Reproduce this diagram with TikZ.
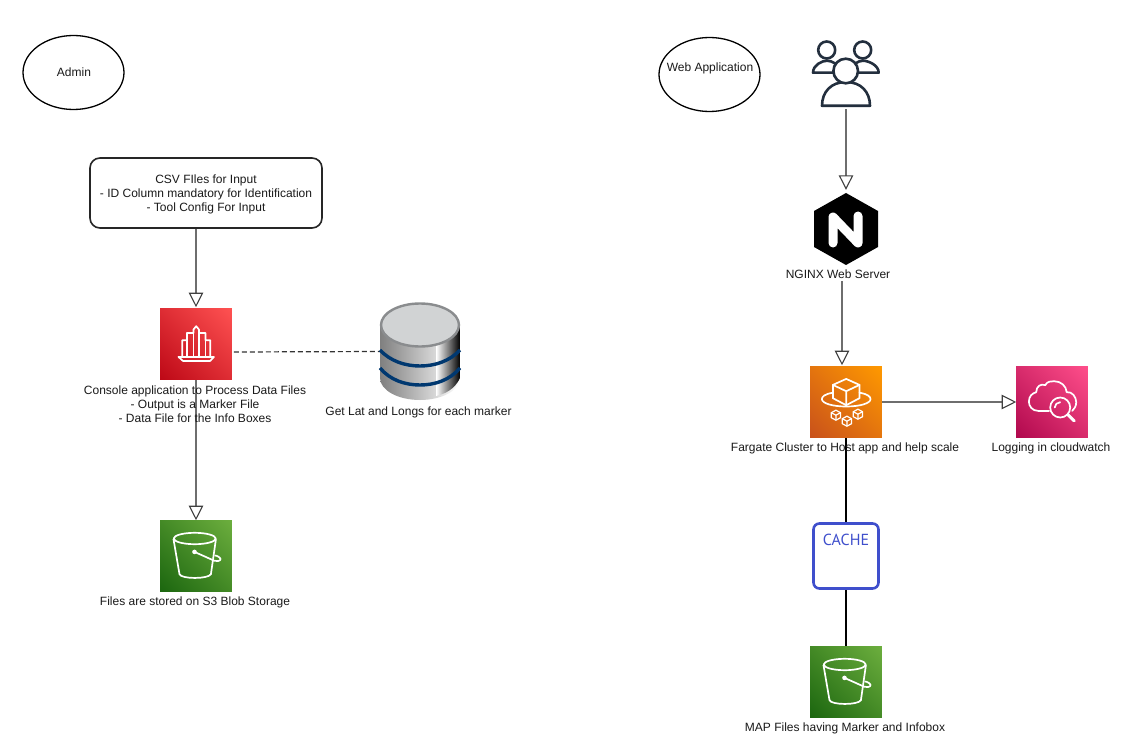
\documentclass[tikz,border=0pt]{standalone}
\usepackage{fontspec}
\setmainfont{Liberation Sans}
\newfontfamily\cachefont{PT Sans}
\usetikzlibrary{arrows.meta,calc,shadings,backgrounds,shapes.geometric}
\definecolor{inkdark}{HTML}{232F3E}
\definecolor{txt}{HTML}{1A1A1A}
\definecolor{edgegray}{HTML}{6E6E6E}
\definecolor{cacheblue}{HTML}{3F4FCC}
\tikzset{
  x=1pt,y=-1pt,
  lbl/.style={font=\fontsize{12}{14}\selectfont,text=txt,inner sep=0pt,align=center},
  oval/.style={draw=black,line width=1.3pt,ellipse,minimum width=101,minimum height=74,inner sep=0pt},
  awssq/.style={minimum size=71.6,inner sep=0pt,outer sep=0pt,shading=bilinear interpolation},
  sqred/.style={awssq,lower left={rgb,255:red,189;green,8;blue,22},upper right={rgb,255:red,255;green,82;blue,82},upper left={rgb,255:red,222;green,45;blue,52},lower right={rgb,255:red,222;green,45;blue,52}},
  sqorange/.style={awssq,lower left={rgb,255:red,200;green,81;blue,27},upper right={rgb,255:red,255;green,153;blue,0},upper left={rgb,255:red,228;green,117;blue,14},lower right={rgb,255:red,228;green,117;blue,14}},
  sqpink/.style={awssq,lower left={rgb,255:red,176;green,8;blue,77},upper right={rgb,255:red,255;green,79;blue,139},upper left={rgb,255:red,216;green,44;blue,108},lower right={rgb,255:red,216;green,44;blue,108}},
  sqgreen/.style={awssq,lower left={rgb,255:red,27;green,102;blue,15},upper right={rgb,255:red,108;green,174;blue,62},upper left={rgb,255:red,68;green,138;blue,38},lower right={rgb,255:red,68;green,138;blue,38}},
  icon/.style={draw=white,line width=1.7pt,line join=round,line cap=round},
  flow/.style={draw=edgegray,line width=1.6pt,-{Triangle[open,length=14.5pt,width=14.5pt,line width=1.1pt,color=black!75]}},
  solidlink/.style={draw=black,line width=2pt},
  dashlink/.style={draw=black!80,line width=1.2pt,dash pattern=on 5pt off 3pt},
  person/.style={draw=inkdark,line width=2.6pt,line join=round,fill=white},
}
\newcommand{\bucketicon}[1]{%
  \begin{scope}[shift={(#1)}]
    \draw[icon] (13.3,19) -- (19.3,54) .. controls (21,59) and (48,59) .. (50.7,54) -- (55.7,19);
    \draw[icon] (34.5,18.3) ellipse [x radius=21,y radius=5.7];
    \fill[white] (34.3,31.7) circle (2.3);
    \draw[icon] (34.3,31.7) -- (54,40.5) .. controls (60,42) and (62,39) .. (59,37) .. controls (58,36) and (56,35.5) .. (55,35.3);
  \end{scope}}
\newcommand{\cubeicon}[2]{%
  \begin{scope}[shift={(#1)},scale=#2]
    \draw[icon,line width=1.2pt] (0,-5) -- (4.6,-2.5) -- (4.6,2.5) -- (0,5) -- (-4.6,2.5) -- (-4.6,-2.5) -- cycle;
    \draw[icon,line width=1.2pt] (-4.6,-2.5) -- (0,0) -- (4.6,-2.5) (0,0) -- (0,5);
  \end{scope}}
\begin{document}
\begin{tikzpicture}
\useasboundingbox (0,0) rectangle (1132,754);

% ---- nodes
\node[oval] (admin) at (73.5,72.5) {};
\node[lbl] (admintext) at (74,72.5) {Admin};
\node[oval] (webapp) at (709.5,74.5) {};
\node[lbl] (webapptext) at (710,68.5) {Web Application};

\node[draw=black!85,line width=1.6pt,rounded corners=10pt,fill=white,minimum width=232,minimum height=70,inner sep=0pt] (csv) at (206,193) {};
\node[lbl] (csvtext) at (206,194.2) {CSV FIles for Input\\- ID Column mandatory for Identification\\- Tool Config For Input};

\node[sqred] (app) at (196,344) {};
\node[sqgreen] (s3a) at (196,556) {};
\node[inner sep=0pt,minimum width=80,minimum height=97] (db) at (420,351.5) {};
\node (users) at (846,72) [inner sep=0pt,minimum width=68,minimum height=74] {};
\node (nginx) at (846,229) [inner sep=0pt,minimum width=64,minimum height=72] {};
\node[sqorange] (fargate) at (846,402) {};
\node[sqpink] (cw) at (1052,402) {};
\node[draw=cacheblue,line width=2.6pt,rounded corners=6pt,minimum size=65,inner sep=0pt,fill=white] (cache) at (846,556) {};
\node[sqgreen] (s3b) at (846,682) {};

% ---- connectors (behind everything else)
\begin{scope}[on background layer]
  \fill[white] (0,0) rectangle (1132,754);
  \draw[flow] (csv.south -| app.north) -- ([yshift=1pt]app.north);
  \draw[flow] (app.south) -- (s3a.north);
  \draw[dashlink] ($(app.east)+(2,8)$) -- (db.west);
  \draw[flow] (users.south) -- ($(nginx.north)+(0,-3)$);
  \draw[flow] ($(nginx.south)+(-4,16)$) -- ($(fargate.north)+(-4,-1)$);
  \draw[flow] (fargate.east) -- (cw.west);
  \draw[solidlink] (fargate.south) -- (cache.north);
  \draw[solidlink] (cache.south) -- (s3b.north);
\end{scope}

% ---- console icon
\begin{scope}[shift={(app.north west)}]
  \draw[icon] (18.3,48.7) -- (53.7,48.7) -- (50,52.7) -- (22.7,52.7) -- cycle;
  \draw[icon] (22,48.7) -- (22,32) -- (26.7,32) -- (26.7,24.7) -- (33.3,24.7) -- (33.3,21.3) -- (36,18) -- (38.7,21.3) -- (38.7,24.7) -- (45.3,24.7) -- (45.3,32) -- (50,32) -- (50,48.7);
  \draw[icon] (26.7,32) -- (26.7,48.7) (33.3,24.7) -- (33.3,48.7) (38.7,24.7) -- (38.7,48.7) (45.3,32) -- (45.3,48.7);
\end{scope}

% ---- buckets
\bucketicon{s3a.north west}
\bucketicon{s3b.north west}

% ---- fargate icon
\begin{scope}[shift={(fargate.north west)}]
  \draw[icon] (36,12.7) -- (49.3,18.7) -- (49.3,32) -- (36,39) -- (22.7,32) -- (22.7,18.7) -- cycle;
  \draw[icon] (22.7,18.7) -- (36,25) -- (49.3,18.7) (36,25) -- (36,39);
  \draw[icon] (22.7,26.5) .. controls (14,28) and (11.7,30.5) .. (11.7,33) .. controls (11.7,37) and (22,40.3) .. (36,40.3) .. controls (50,40.3) and (60.3,37) .. (60.3,33) .. controls (60.3,30.5) and (58,28) .. (49.3,26.5);
  \cubeicon{25.7,49}{1}
  \cubeicon{36.7,55}{1}
  \cubeicon{47.7,48}{1}
\end{scope}

% ---- cloudwatch icon
\begin{scope}[shift={(cw.north west)}]
  \draw[icon] (33,44.7) -- (22,44.7) .. controls (16,44.7) and (12.7,40) .. (12.7,35.5) .. controls (12.7,30) and (16,27) .. (20,26) .. controls (20,20) and (25,17) .. (29,19) .. controls (31,15) and (35,15) .. (38,15) .. controls (45,15) and (50,20) .. (50.5,26) .. controls (56,25) and (60,31) .. (60,36) .. controls (60,40) and (58,43) .. (56,44.7);
  \draw[icon] (44,41.3) circle (10);
  \draw[icon] (38.5,41.3) .. controls (38.5,38.5) and (41,36) .. (44,36);
  \draw[icon,line width=3pt] (52,48.7) -- (58,54.7);
\end{scope}

% ---- users icon
\draw[person] (813,72.7) .. controls (813,65) and (822,60.7) .. (827,60.7) .. controls (832,60.7) and (841,65) .. (841,72.7) -- cycle;
\draw[person] (850.5,72.7) .. controls (850.5,65) and (858,60.7) .. (863,60.7) .. controls (868,60.7) and (878.7,65) .. (878.7,72.7) -- cycle;
\draw[person] (826.7,50) circle (8.5);
\draw[person] (862.7,50) circle (8.5);
\draw[person] (822,105.8) .. controls (822,92) and (831,82) .. (846,82) .. controls (861,82) and (870,92) .. (870,105.8) -- cycle;
\draw[person] (845.7,71) circle (12.3);

% ---- nginx icon
\fill[black] (846,193) -- (878,211) -- (878,247) -- (846,265) -- (814,247) -- (814,211) -- cycle;
\draw[white,line width=9pt,line cap=round,line join=round] (833,243) -- (833,217) -- (858,243) -- (858,216);

% ---- database icon
\shade[left color=black!50,right color=white] (380,325) -- (380,378) arc [start angle=180,end angle=0,x radius=40,y radius=22] -- (460,325) -- cycle;
\shade[left color=white,right color=black] (436,325) -- (436,396) .. controls (445,394) and (455,389) .. (460,378) -- (460,325) -- cycle;
\draw[draw={rgb,255:red,0;green,56;blue,112},line width=3.4pt] (380,350) .. controls (390,361) and (405,366) .. (420,366) .. controls (435,366) and (450,361) .. (460,350);
\draw[draw={rgb,255:red,0;green,56;blue,112},line width=3.4pt] (380,368) .. controls (390,380) and (405,385) .. (420,385) .. controls (435,385) and (450,380) .. (460,368);
\draw[fill={rgb,255:red,209;green,211;blue,212},draw={rgb,255:red,138;green,140;blue,142},line width=2.4pt] (420,325) ellipse [x radius=39,y radius=21.5];

% ---- cache text
\node[inner sep=0pt,text=cacheblue,font=\cachefont\fontsize{16}{18}\selectfont] (cachetext) at (846,539.5) {CACHE};

% ---- labels
\node[lbl] (apptext) at (195,404) {Console application to Process Data Files\\- Output is a Marker File\\- Data File for the Info Boxes};
\node[lbl] (dbtext) at (418.5,412.2) {Get Lat and Longs for each marker};
\node[lbl] (s3atext) at (195,602.2) {Files are stored on S3 Blob Storage};
\node[lbl] (nginxtext) at (838,274.4) {NGINX Web Server};
\node[lbl] (fargatetext) at (845,448.2) {Fargate Cluster to Host app and help scale};
\node[lbl] (cwtext) at (1051,448.2) {Logging in cloudwatch};
\node[lbl] (s3btext) at (845,728.2) {MAP Files having Marker and Infobox};
\end{tikzpicture}
\end{document}
